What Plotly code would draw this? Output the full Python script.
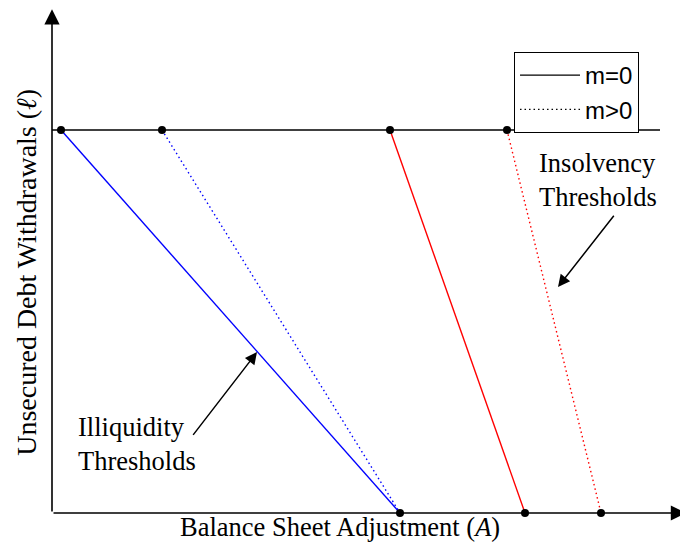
import plotly.graph_objects as go

# Data (abstract units: A along x, ell along y; top level ell = 1)
ell_top = 1.0
ell_bottom = 0.0
line_end_A = 6.08

# Illiquidity thresholds
illiq_top_m0 = 0.09
illiq_top_mpos = 1.10
illiq_bottom = 3.48

# Insolvency thresholds
insol_top_m0 = 3.38
insol_bottom_m0 = 4.73
insol_top_mpos = 4.55
insol_bottom_mpos = 5.49

top_points = [illiq_top_m0, illiq_top_mpos, insol_top_m0, insol_top_mpos]
bottom_points = [illiq_bottom, insol_bottom_m0, insol_bottom_mpos]

serif = "Liberation Serif"
lw = 1.4
dotted = "1.5px,3px"

fig = go.Figure()

# top horizontal line
fig.add_trace(go.Scatter(x=[0, line_end_A], y=[ell_top, ell_top], mode="lines",
                         line=dict(color="black", width=lw), showlegend=False, hoverinfo="skip"))
# illiquidity
fig.add_trace(go.Scatter(x=[illiq_top_m0, illiq_bottom], y=[ell_top, ell_bottom], mode="lines",
                         line=dict(color="blue", width=lw), showlegend=False))
fig.add_trace(go.Scatter(x=[illiq_top_mpos, illiq_bottom], y=[ell_top, ell_bottom], mode="lines",
                         line=dict(color="blue", width=lw, dash=dotted), showlegend=False))
# insolvency
fig.add_trace(go.Scatter(x=[insol_top_m0, insol_bottom_m0], y=[ell_top, ell_bottom], mode="lines",
                         line=dict(color="red", width=lw), showlegend=False))
fig.add_trace(go.Scatter(x=[insol_top_mpos, insol_bottom_mpos], y=[ell_top, ell_bottom], mode="lines",
                         line=dict(color="red", width=lw, dash=dotted), showlegend=False))
# points
fig.add_trace(go.Scatter(x=top_points + bottom_points,
                         y=[ell_top] * len(top_points) + [ell_bottom] * len(bottom_points),
                         mode="markers", marker=dict(color="black", size=8), showlegend=False))
# legend entries
fig.add_trace(go.Scatter(x=[None], y=[None], mode="lines", name="m=0",
                         line=dict(color="black", width=1.4)))
fig.add_trace(go.Scatter(x=[None], y=[None], mode="lines", name="m>0",
                         line=dict(color="black", width=1.2, dash=dotted)))

# axes with arrows
fig.add_annotation(x=6.34, y=0, ax=0, ay=0, xref="x", yref="y", axref="x", ayref="y",
                   text="", showarrow=True, arrowhead=2, arrowsize=1.9, arrowwidth=1.6,
                   arrowcolor="black")
fig.add_annotation(x=0, y=1.315, ax=0, ay=0, xref="x", yref="y", axref="x", ayref="y",
                   text="", showarrow=True, arrowhead=2, arrowsize=1.9, arrowwidth=1.6,
                   arrowcolor="black")

# threshold annotations
fig.add_annotation(x=2.05, y=0.42, ax=1.40, ay=0.20, xref="x", yref="y", axref="x", ayref="y",
                   text="", showarrow=True, arrowhead=2, arrowsize=1.6, arrowwidth=1.5,
                   arrowcolor="black")
fig.add_annotation(x=0.24, y=0.18, xref="x", yref="y", text="Illiquidity<br>Thresholds",
                   showarrow=False, xanchor="left", yanchor="middle", align="left",
                   font=dict(family=serif, size=26.5, color="black"))
fig.add_annotation(x=5.06, y=0.59, ax=5.63, ay=0.78, xref="x", yref="y", axref="x", ayref="y",
                   text="", showarrow=True, arrowhead=2, arrowsize=1.6, arrowwidth=1.5,
                   arrowcolor="black")
fig.add_annotation(x=4.85, y=0.87, xref="x", yref="y", text="Insolvency<br>Thresholds",
                   showarrow=False, xanchor="left", yanchor="middle", align="left",
                   font=dict(family=serif, size=26.5, color="black"))

# axis labels
fig.add_annotation(x=2.88, y=-0.037, xref="x", yref="y", text="Balance Sheet Adjustment (<i>A</i>)",
                   showarrow=False, xanchor="center", yanchor="middle",
                   font=dict(family=serif, size=26.5, color="black"))
fig.add_annotation(x=-0.25, y=0.627, xref="x", yref="y", text="Unsecured Debt Withdrawals (<i>ℓ</i>)",
                   showarrow=False, textangle=-90, xanchor="center", yanchor="middle",
                   font=dict(family=serif, size=28, color="black"))

fig.update_xaxes(range=[-0.44, 6.44], visible=False)
fig.update_yaxes(range=[-0.1332, 1.3185], visible=False)

fig.update_layout(
    width=688, height=556,
    margin=dict(l=0, r=0, t=0, b=0),
    plot_bgcolor="white", paper_bgcolor="white",
    legend=dict(x=0.7355, y=0.9209, xanchor="left", yanchor="top",
                bordercolor="black", borderwidth=1, bgcolor="white",
                itemwidth=60, font=dict(family="Liberation Sans", size=24, color="black"),
                tracegroupgap=0),
)

fig.write_html("out.html")
